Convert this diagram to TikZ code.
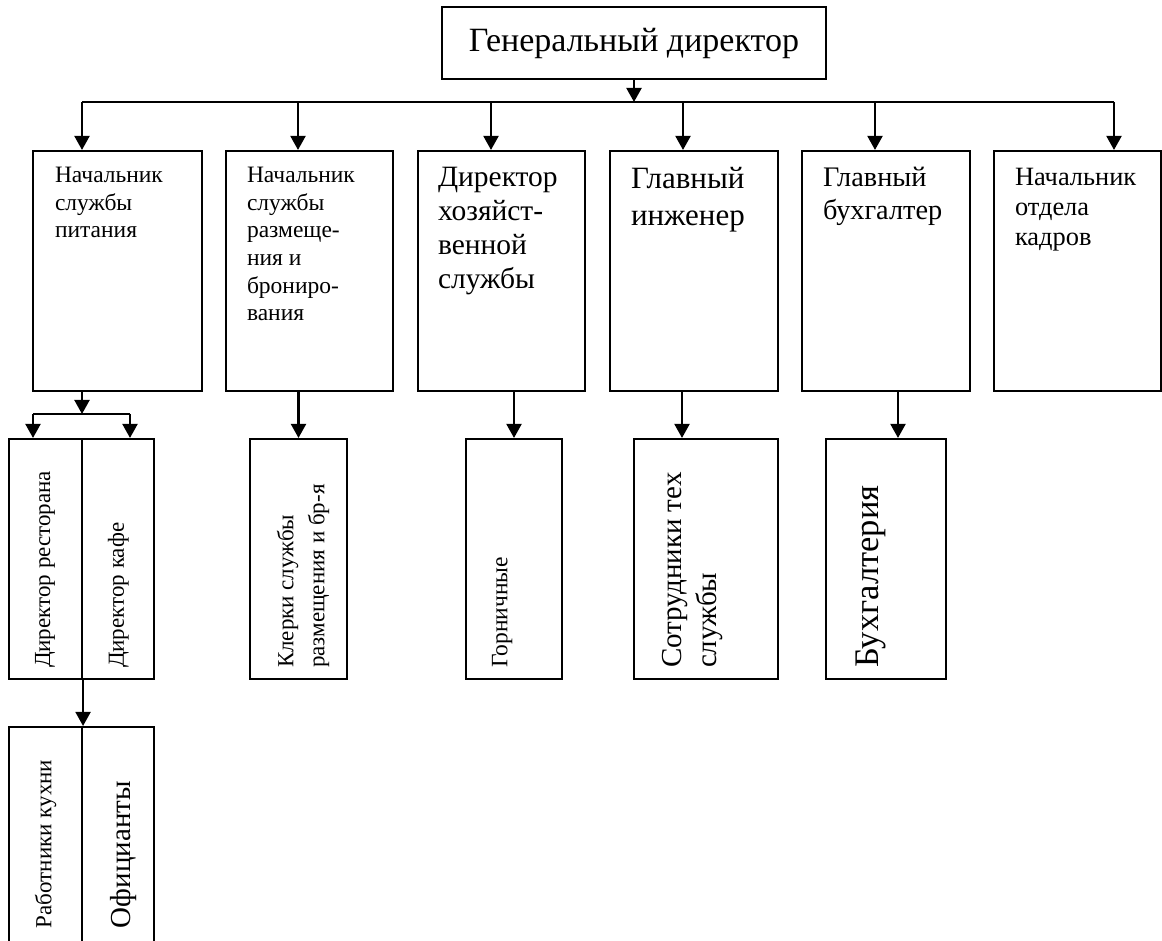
\documentclass[tikz,border=0pt]{standalone}
\usepackage{fontspec}
\setmainfont{Liberation Serif}
\usetikzlibrary{arrows.meta}
\newcommand{\fs}[2]{\fontsize{#1}{#2}\selectfont}
\begin{document}
\begin{tikzpicture}[x=1pt,y=1pt,line width=2.1pt,
  box/.style={draw,inner sep=0pt},
  arr/.style={-{Triangle[width=15pt,length=14pt]}},
  lbl/.style={anchor=north west,inner sep=0pt,align=left},
  rot/.style={rotate=90,anchor=north west,inner sep=0pt,align=left}]
\useasboundingbox (0,0) rectangle (1162,940);
\node [box,minimum width=384pt,minimum height=72pt,font=\fs{34}{40}] (gd) at (634,897) {Генеральный директор};
\node [box,minimum width=169pt,minimum height=240pt] (b1) at (117.5,669) {};
\node [box,minimum width=167pt,minimum height=240pt] (b2) at (309.5,669) {};
\node [box,minimum width=167pt,minimum height=240pt] (b3) at (501.5,669) {};
\node [box,minimum width=168pt,minimum height=240pt] (b4) at (694,669) {};
\node [box,minimum width=168pt,minimum height=240pt] (b5) at (886,669) {};
\node [box,minimum width=167pt,minimum height=240pt] (b6) at (1077.5,669) {};
\node [lbl,font=\fs{23.5}{27.7}] (t1) at ([shift={(22,-16)}]b1.north west) {Начальник\\службы\\питания};
\node [lbl,font=\fs{23.5}{27.7}] (t2) at ([shift={(21,-16)}]b2.north west) {Начальник\\службы\\размеще-\\ния и\\брониро-\\вания};
\node [lbl,font=\fs{29.5}{34}] (t3) at ([shift={(20,-16)}]b3.north west) {Директор\\хозяйст-\\венной\\службы};
\node [lbl,font=\fs{31}{37}] (t4) at ([shift={(21,-16)}]b4.north west) {Главный\\инженер};
\node [lbl,font=\fs{28.3}{33.5}] (t5) at ([shift={(21,-16)}]b5.north west) {Главный\\бухгалтер};
\node [lbl,font=\fs{26.4}{30}] (t6) at ([shift={(21,-17)}]b6.north west) {Начальник\\отдела\\кадров};
\node [box,minimum width=73pt,minimum height=240pt] (dr) at (45.5,381) {};
\node [box,minimum width=72pt,minimum height=240pt] (dk) at (118,381) {};
\node [box,minimum width=97pt,minimum height=240pt] (kl) at (298.5,381) {};
\node [box,minimum width=96pt,minimum height=240pt] (gn) at (514,381) {};
\node [box,minimum width=144pt,minimum height=240pt] (st) at (706,381) {};
\node [box,minimum width=120pt,minimum height=240pt] (bh) at (886,381) {};
\node [box,minimum width=73pt,minimum height=216pt] (rk) at (45.5,105) {};
\node [box,minimum width=72pt,minimum height=216pt] (of) at (118,105) {};
\node [rot,font=\fs{23}{30}] (tdr) at ([shift={(26,11)}]dr.south west) {Директор ресторана};
\node [rot,font=\fs{23}{30}] (tdk) at ([shift={(26,11)}]dk.south west) {Директор кафе};
\node [rot,font=\fs{23}{31}] (tkl) at ([shift={(27,11)}]kl.south west) {Клерки службы\\размещения и бр-я};
\node [rot,font=\fs{23.5}{30}] (tgn) at ([shift={(26,11)}]gn.south west) {Горничные};
\node [rot,font=\fs{29}{35}] (tst) at ([shift={(28,11)}]st.south west) {Сотрудники тех\\службы};
\node [rot,font=\fs{34.5}{40}] (tbh) at ([shift={(30,11)}]bh.south west) {Бухгалтерия};
\node [rot,font=\fs{23}{30}] (trk) at ([shift={(26,15)}]rk.south west) {Работники кухни};
\node [rot,font=\fs{29}{34}] (tof) at ([shift={(28,15)}]of.south west) {Официанты};
\coordinate (c1) at (82,838); \coordinate (c2) at (298,838); \coordinate (c3) at (491,838);
\coordinate (c4) at (683,838); \coordinate (c5) at (875,838); \coordinate (c6) at (1114,838);
\draw [arr] (gd.south) -- (gd.south |- c1);
\draw (c1) -- (c6);
\foreach \i in {1,...,6} \draw [arr] (c\i) -- (c\i |- b\i.north);
\coordinate (s0) at (82,526); \coordinate (s1) at (33,526); \coordinate (s2) at (130,526);
\draw [arr] (s0 |- b1.south) -- (s0);
\draw (s1) -- (s2);
\draw [arr] (s1) -- (s1 |- dr.north);
\draw [arr] (s2) -- (s2 |- dk.north);
\draw [arr] (dr.south east) -- (rk.north east);
\draw [arr] (kl.north |- b2.south) -- (kl.north);
\draw [arr] (gn.north |- b3.south) -- (gn.north);
\coordinate (a4) at (682,0); \coordinate (a5) at (898,0);
\draw [arr] (a4 |- b4.south) -- (a4 |- st.north);
\draw [arr] (a5 |- b5.south) -- (a5 |- bh.north);
\end{tikzpicture}
\end{document}
